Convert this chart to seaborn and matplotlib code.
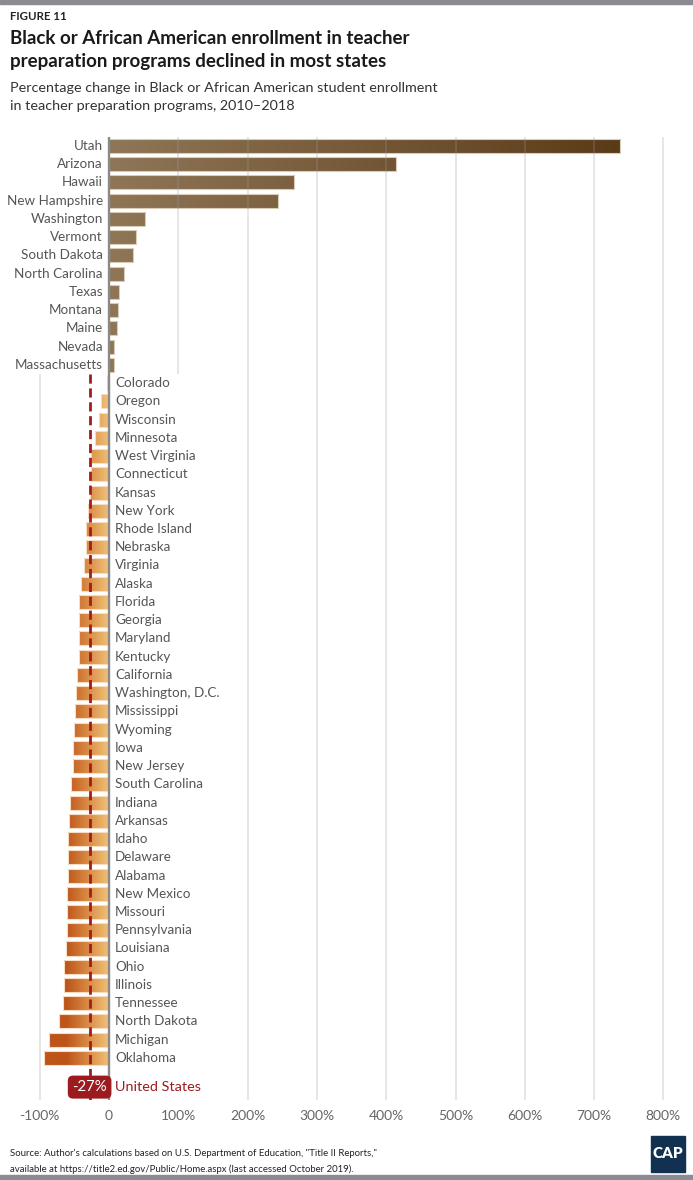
import numpy as np
import pandas as pd
import matplotlib.pyplot as plt
import seaborn as sns
from matplotlib.colors import LinearSegmentedColormap, Normalize
from matplotlib.patches import Rectangle

# data (% change 2010-2018)
states_up = ["Utah", "Arizona", "Hawaii", "New Hampshire", "Washington", "Vermont",
             "South Dakota", "North Carolina", "Texas", "Montana", "Maine", "Nevada",
             "Massachusetts"]
values_up = [738, 414, 267, 244, 52, 39, 34, 22, 14, 12.5, 11.5, 7.7, 6.8]

states_down = ["Colorado", "Oregon", "Wisconsin", "Minnesota", "West Virginia",
               "Connecticut", "Kansas", "New York", "Rhode Island", "Nebraska",
               "Virginia", "Alaska", "Florida", "Georgia", "Maryland", "Kentucky",
               "California", "Washington, D.C.", "Mississippi", "Wyoming", "Iowa",
               "New Jersey", "South Carolina", "Indiana", "Arkansas", "Idaho",
               "Delaware", "Alabama", "New Mexico", "Missouri", "Pennsylvania",
               "Louisiana", "Ohio", "Illinois", "Tennessee", "North Dakota",
               "Michigan", "Oklahoma"]
values_down = [-2.5, -11, -15, -20.6, -26, -26, -27, -31, -33, -33.6, -35.6, -40,
               -43, -43, -43.5, -44, -46, -47, -49, -50.5, -51.5, -52.4, -55, -56,
               -58, -59, -59, -59.5, -60, -60.5, -61, -62.5, -64.5, -65.5, -66, -72,
               -86, -94]

us_label = "United States"
us_value = -27

ticks = [-100, 0, 100, 200, 300, 400, 500, 600, 700, 800]
tick_labels = ["-100%", "0", "100%", "200%", "300%", "400%", "500%", "600%", "700%", "800%"]

df = pd.DataFrame({"state": states_up + states_down, "change": values_up + values_down})

sns.set_theme(style="white")
plt.rcParams["font.family"] = ["Lato", "DejaVu Sans"]

W, H = 693, 1180
fig = plt.figure(figsize=(W / 100, H / 100), dpi=100)
ax = fig.add_axes([0.0473, 0.0679, 0.920, 0.8161])

sns.barplot(data=df, x="change", y="state", orient="h", width=0.77,
            color="#8c7355", ax=ax, zorder=2)

xlim = (-110, 810)
ylim = (52.3, -0.5)

# gradient fill clipped to each bar
cmap_up = LinearSegmentedColormap.from_list("up", ["#8f7657", "#5a3b17"])
cmap_down = LinearSegmentedColormap.from_list("down", ["#bd5419", "#d98a44", "#f0c37a"])
for p in list(ax.patches):
    x0, w = p.get_x(), p.get_width()
    lo, hi = min(x0, x0 + w), max(x0, x0 + w)
    grad = np.linspace(lo, hi, 200)[None, :]
    if hi > 0.001:
        cm, nm, ec = cmap_up, Normalize(0, 740, clip=True), "#d9ccb8"
    else:
        cm, nm, ec = cmap_down, Normalize(-62, 0, clip=True), "#f6dcc0"
    im = ax.imshow(grad, cmap=cm, norm=nm, aspect="auto", zorder=2.1,
                   extent=(lo, hi, p.get_y() + p.get_height(), p.get_y()))
    im.set_clip_path(p)
    p.set_facecolor("none")
    p.set_edgecolor(ec)
    p.set_linewidth(0.8)
    p.set_zorder(2.2)

ax.set_xlim(*xlim)
ax.set_ylim(*ylim)

# split after the last positive state
split = len(states_up) - 0.5
grid_kw = dict(color="#9a9a9a", alpha=0.32, lw=1.1, zorder=3)
for t in ticks:
    if t == 0:
        continue
    if t == 100:
        ax.vlines(t, ylim[1], split, **grid_kw)
    elif t == -100:
        ax.vlines(t, split, ylim[0], **grid_kw)
    else:
        ax.vlines(t, ylim[1], ylim[0], **grid_kw)
ax.vlines(0, ylim[1], ylim[0], color="#8a8a8a", lw=1.7, zorder=4)

# national average
us_pos = len(df) + 0.6
ax.vlines(us_value, split, ylim[0], color="#a01c20", lw=2, linestyles=(0, (3.3, 1.7)), zorder=5)
ax.text(us_value - 1, us_pos, f"{us_value}%", ha="center", va="center", fontsize=10.8,
        color="white", zorder=7,
        bbox=dict(boxstyle="round,pad=0.3,rounding_size=0.35", fc="#9b1b1f", ec="none"))
ax.text(8.7, us_pos, us_label, ha="left", va="center", fontsize=10.4, color="#9b1b1f", zorder=7)

# state labels
for i, (s, v) in enumerate(zip(df["state"], df["change"])):
    if v > 0:
        ax.text(-8.7, i, s, ha="right", va="center", fontsize=9.7, color="#555555", zorder=6)
    else:
        ax.text(8.7, i, s, ha="left", va="center", fontsize=9.7, color="#555555", zorder=6)

ax.set_yticks([])
ax.set_ylabel("")
ax.set_xlabel("")
ax.set_xticks(ticks)
ax.set_xticklabels(tick_labels, fontsize=10, color="#666666")
ax.tick_params(axis="x", length=0, pad=7.5)
for sp in ax.spines.values():
    sp.set_visible(False)
ax.set_facecolor("none")

# header / footer
def fy(y):
    return 1 - y / H

fig.patches.append(Rectangle((0, fy(4)), 1, 4 / H, transform=fig.transFigure,
                             color="#8b8b94", zorder=0))
fig.patches.append(Rectangle((0, 0), 1, 5 / H, transform=fig.transFigure,
                             color="#8b8b94", zorder=0))
fig.text(10 / W, fy(16), "FIGURE 11", fontsize=8.3, fontweight="bold", color="#222222", va="center")
fig.text(10 / W, fy(39), "Black or African American enrollment in teacher",
         fontsize=13.5, fontweight="bold", color="#1a1a1a", va="center")
fig.text(10 / W, fy(62), "preparation programs declined in most states",
         fontsize=13.5, fontweight="bold", color="#1a1a1a", va="center")
fig.text(10 / W, fy(88), "Percentage change in Black or African American student enrollment",
         fontsize=10.4, color="#333333", va="center")
fig.text(10 / W, fy(106), "in teacher preparation programs, 2010\u20132018",
         fontsize=10.4, color="#333333", va="center")
fig.text(10 / W, fy(1154), "Source: Author's calculations based on U.S. Department of Education, \"Title II Reports,\"",
         fontsize=6.9, color="#222222", va="center")
fig.text(10 / W, fy(1169), "available at https://title2.ed.gov/Public/Home.aspx (last accessed October 2019).",
         fontsize=6.9, color="#222222", va="center")

# CAP logo
fig.patches.append(Rectangle((651 / W, fy(1172)), 34 / W, 36 / H, transform=fig.transFigure,
                             color="#12304f", zorder=1))
fig.text(668 / W, fy(1154), "CAP", fontsize=11, fontweight="heavy", color="white",
         ha="center", va="center", zorder=2)

fig.savefig("out.png", dpi=100)
plt.close()
